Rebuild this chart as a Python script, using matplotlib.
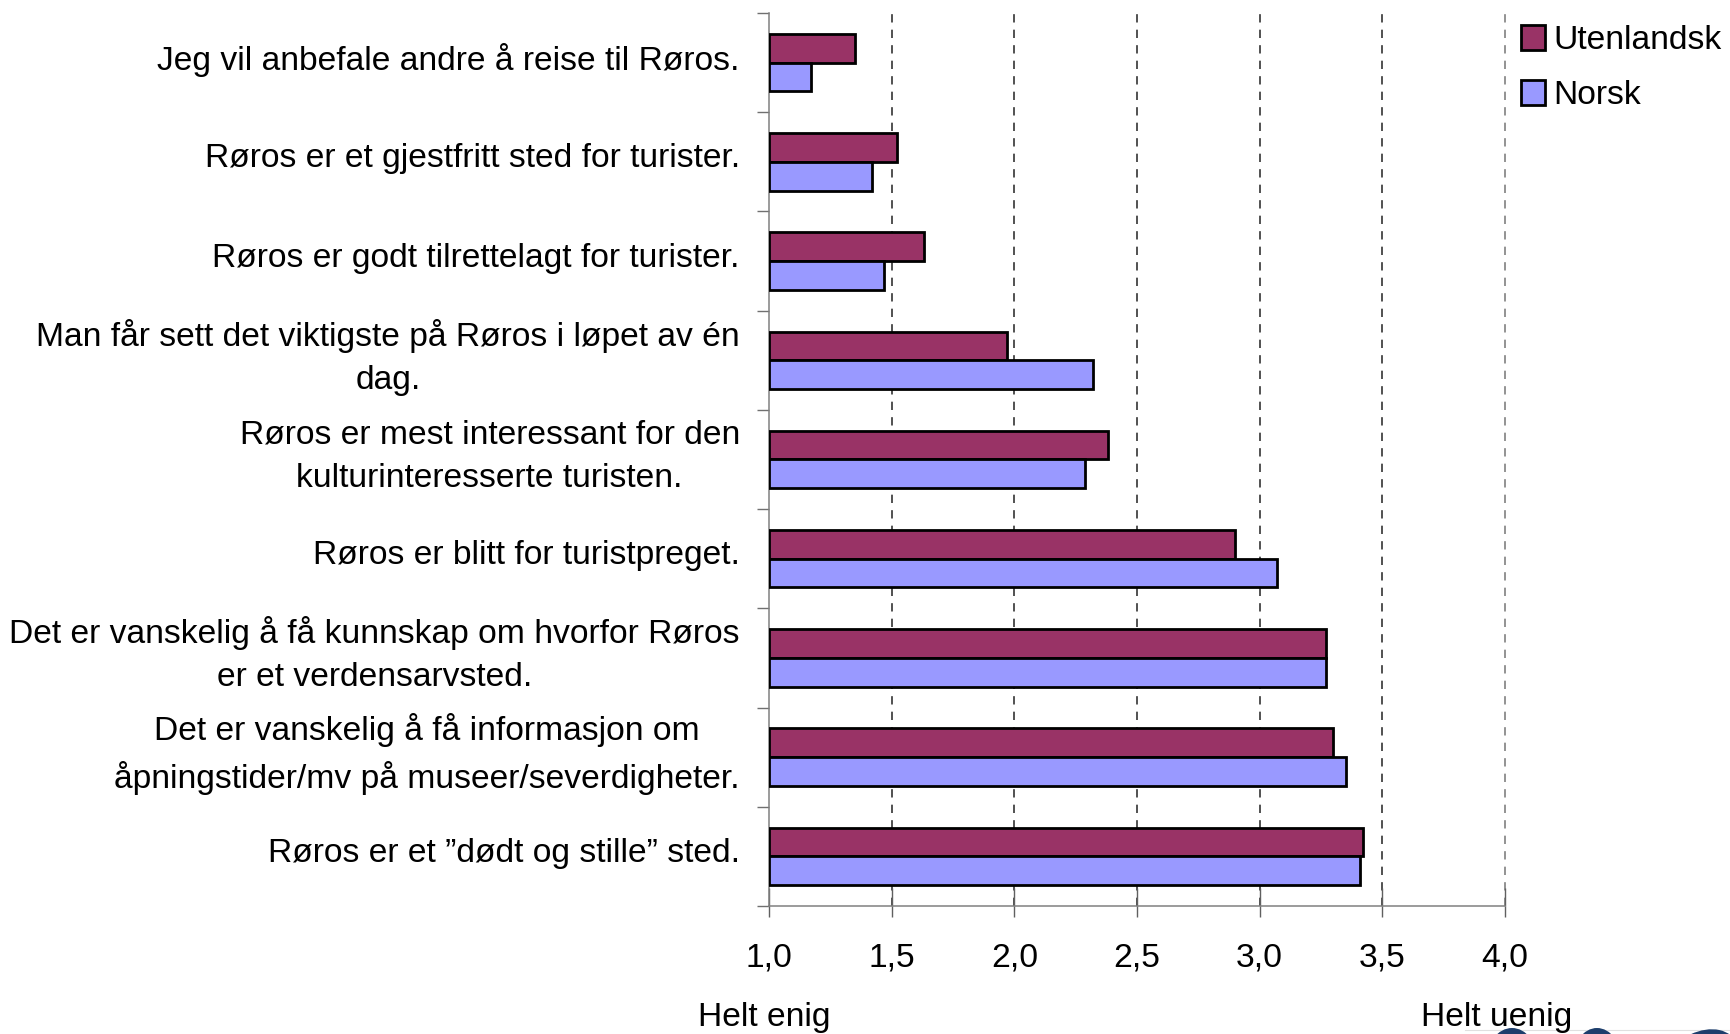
import matplotlib
matplotlib.use('Agg')
import matplotlib.pyplot as plt
import numpy as np
from matplotlib.patches import Ellipse
from matplotlib.lines import Line2D

plt.rcParams['font.family'] = ['Liberation Sans', 'DejaVu Sans']

categories = [
    "Jeg vil anbefale andre å reise til Røros.",
    "Røros er et gjestfritt sted for turister.",
    "Røros er godt tilrettelagt for turister.",
    "Man får sett det viktigste på Røros i løpet av én\ndag.",
    "Røros er mest interessant for den\nkulturinteresserte turisten.",
    "Røros er blitt for turistpreget.",
    "Det er vanskelig å få kunnskap om hvorfor Røros\ner et verdensarvsted.",
    "Det er vanskelig å få informasjon om\nåpningstider/mv på museer/severdigheter.",
    "Røros er et ”dødt og stille” sted.",
]
utenlandsk = [1.35, 1.52, 1.63, 1.97, 2.38, 2.90, 3.27, 3.30, 3.42]
norsk = [1.17, 1.42, 1.47, 2.32, 2.29, 3.07, 3.27, 3.35, 3.41]
series_names = ["Utenlandsk", "Norsk"]
xticks = [1.0, 1.5, 2.0, 2.5, 3.0, 3.5, 4.0]
xtick_labels = ["1,0", "1,5", "2,0", "2,5", "3,0", "3,5", "4,0"]
scale_labels = ["Helt enig", "Helt uenig"]

W, H = 1730, 1034
FS = 24.2
fig = plt.figure(figsize=(W / 100, H / 100), dpi=100)
ax = fig.add_axes([769 / W, 1 - 906 / H, (1505 - 769) / W, (906 - 13) / H])

y = np.arange(len(categories))
h = 0.29
base = xticks[0]
bu = ax.barh(y - h / 2, np.array(utenlandsk) - base, left=base, height=h,
             color='#993366', edgecolor='black', linewidth=2.0, zorder=3)
bn = ax.barh(y + h / 2, np.array(norsk) - base, left=base, height=h,
             color='#9999FF', edgecolor='black', linewidth=2.0, zorder=3)

ax.set_xlim(xticks[0], xticks[-1])
ax.set_ylim(len(categories) - 0.5, -0.5)

for xv in xticks[1:]:
    ax.axvline(xv, color='#333333' if xv < xticks[-1] else '#808080', linewidth=1.2,
               linestyle=(0, (5, 4.3)), zorder=1, clip_on=False)

ax.set_xticks(xticks)
ax.set_xticklabels(xtick_labels, fontsize=FS)
ax.xaxis.remove_overlapping_locs = False
ax.set_xticks(xticks, minor=True)
ax.tick_params(axis='x', which='major', direction='in', length=13, width=1,
               color='#606060', pad=26.5)
ax.tick_params(axis='x', which='minor', direction='out', length=8, width=1,
               color='#606060')

# label anchors nudged slightly upward (ticks themselves are invisible)
ax.set_yticks(y - 0.03)
ax.set_yticklabels(categories, fontsize=FS)
for lbl in ax.get_yticklabels():
    lbl.set_multialignment('center')
    lbl.set_linespacing(1.5)
    lbl.set_verticalalignment('center')
ax.set_yticks(np.arange(-0.5, len(categories), 1.0), minor=True)
ax.tick_params(axis='y', which='major', length=0, pad=21)
ax.tick_params(axis='y', which='minor', direction='out', length=8.6, width=1,
               color='#707070')

for s in ['top', 'right']:
    ax.spines[s].set_visible(False)
for s in ['left', 'bottom']:
    ax.spines[s].set_color('#808080')
    ax.spines[s].set_linewidth(1.1)

fig.legend(handles=[bu, bn], labels=series_names, loc='upper left',
           bbox_to_anchor=(1521 / W, 1 - 25 / H), frameon=False, fontsize=FS,
           handlelength=0.7, handleheight=0.76, handletextpad=0.27,
           labelspacing=0.72, borderpad=0, borderaxespad=0)

fig.text(764 / W, 1 - 1026 / H, scale_labels[0], ha='center', va='baseline', fontsize=FS)
fig.text(1497 / W, 1 - 1026 / H, scale_labels[1], ha='center', va='baseline', fontsize=FS)

# partial logo at bottom right
navy = '#1d3e6c'
fig.add_artist(Line2D([1465 / W, 1], [1 - 1030 / H, 1 - 1030 / H], transform=fig.transFigure,
                      color='#e0e0e0', linewidth=0.8, zorder=0))
fig.add_artist(Ellipse((1512 / W, 1 - 1062 / H), 52 / W, 68 / H, transform=fig.transFigure,
                       facecolor=navy, edgecolor='none', zorder=0))
fig.add_artist(Ellipse((1597 / W, 1 - 1062 / H), 50 / W, 68 / H, transform=fig.transFigure,
                       facecolor=navy, edgecolor='none', zorder=0))
fig.add_artist(Ellipse((1700 / W, 1 - 1062 / H), 70 / W, 68 / H, angle=-20, transform=fig.transFigure,
                       facecolor=navy, edgecolor='none', zorder=0))

fig.savefig('out.png', dpi=100)
